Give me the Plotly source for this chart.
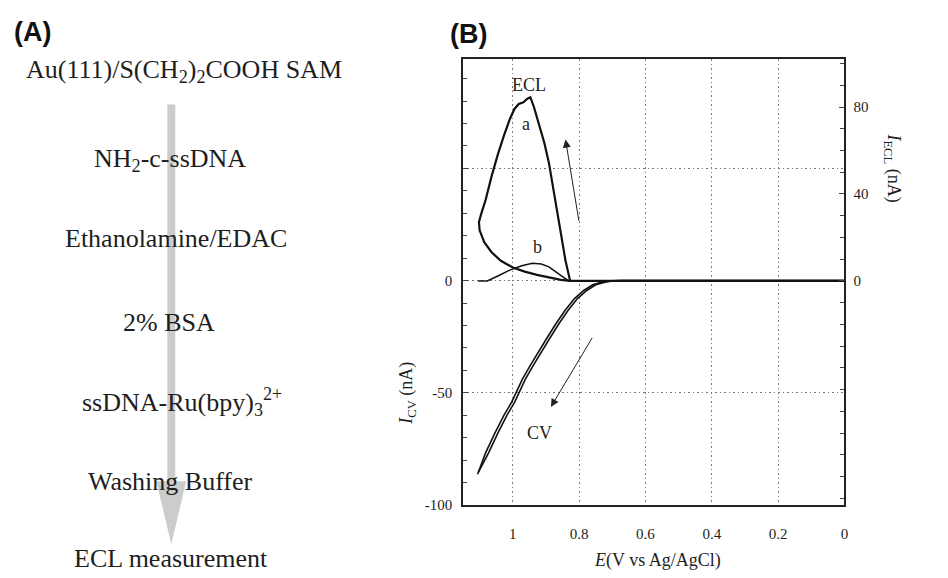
import plotly.graph_objects as go

W, H = 948, 578

# ---------------- Panel B data ----------------
# ECL curve a (E / V, I_ECL / nA, right axis)
ecl_a_E = [0.000, 0.827, 0.841, 0.855, 0.868, 0.882, 0.891, 0.905, 0.923, 0.936, 0.947,
           0.956, 0.968, 0.982, 0.995, 1.009, 1.027, 1.045, 1.064, 1.082, 1.095, 1.102,
           1.100, 1.086, 1.064, 1.036, 1.000, 0.964, 0.927, 0.891, 0.855, 0.827]
ecl_a_I = [0.0, 0.0, 9.3, 21.7, 34.1, 45.0, 54.3, 63.6, 73.7, 79.9, 84.5,
           83.8, 82.2, 81.4, 79.1, 74.4, 66.7, 58.2, 48.1, 37.2, 31.0, 27.1,
           23.3, 17.8, 13.2, 9.3, 6.2, 4.3, 2.8, 1.6, 0.5, 0.0]

# ECL curve b
ecl_b_E = [1.105, 1.077, 1.045, 1.009, 0.973, 0.941, 0.914, 0.891, 0.868, 0.845, 0.832, 0.000]
ecl_b_I = [0.0, 0.0, 2.3, 5.0, 7.0, 8.1, 7.8, 6.5, 3.9, 1.2, 0.0, 0.0]

# CV curves (E / V, I_CV / nA, left axis)
cv1_E = [1.106, 1.082, 1.054, 1.026, 1.003, 0.989, 0.971, 0.948, 0.925, 0.897,
         0.869, 0.842, 0.814, 0.786, 0.759, 0.731, 0.704, 0.676, 0.000]
cv1_I = [-86.3, -76.8, -68.0, -59.9, -54.1, -49.7, -43.9, -38.0, -32.2, -25.6,
         -19.0, -13.2, -8.0, -4.4, -1.9, -0.7, -0.1, 0.0, 0.0]
cv2_E = [1.104, 1.073, 1.045, 1.017, 0.994, 0.980, 0.962, 0.939, 0.916, 0.888,
         0.860, 0.833, 0.805, 0.777, 0.750, 0.722, 0.695, 0.667, 0.000]
cv2_I = [-85.5, -76.8, -68.0, -59.9, -54.1, -49.7, -43.9, -38.0, -32.2, -25.6,
         -19.0, -13.2, -8.0, -4.4, -1.9, -0.7, -0.1, 0.0, 0.0]

x_tickvals = [1, 0.8, 0.6, 0.4, 0.2, 0]
x_ticktext = ["1", "0.8", "0.6", "0.4", "0.2", "0"]
yl_tickvals = [-100, -50, 0, 50]
yl_ticktext = ["-100", "-50", "0", ""]
yr_tickvals = [0, 40, 80]
yr_ticktext = ["0", "40", "80"]

# ---------------- Panel A text ----------------
steps = [
    "Au(111)/S(CH<sub>2</sub>)<sub>2</sub>COOH SAM",
    "NH<sub>2</sub>-c-ssDNA",
    "Ethanolamine/EDAC",
    "2% BSA",
    "ssDNA-Ru(bpy)<sub>3</sub><sup>2+</sup>",
    "Washing Buffer",
    "ECL measurement",
]
step_px = [(185, 72), (171, 162), (177, 242), (170, 327), (183, 408), (171, 488), (172, 566)]

SERIF = "Liberation Serif"
SANS = "Liberation Sans"
TXT = "#1e1e1e"


def px2x(px):
    return px / W


def py2y(py):
    return 1 - py / H


fig = go.Figure()

fig.add_trace(go.Scatter(x=cv1_E, y=cv1_I, mode="lines", line=dict(color="#111", width=1.6),
                         yaxis="y", showlegend=False))
fig.add_trace(go.Scatter(x=cv2_E, y=cv2_I, mode="lines", line=dict(color="#111", width=1.6),
                         yaxis="y", showlegend=False))
fig.add_trace(go.Scatter(x=ecl_b_E, y=ecl_b_I, mode="lines", line=dict(color="#111", width=1.5),
                         yaxis="y2", showlegend=False))
fig.add_trace(go.Scatter(x=ecl_a_E, y=ecl_a_I, mode="lines", line=dict(color="#111", width=2.2),
                         yaxis="y2", showlegend=False))

ann = []
# panel labels
ann.append(dict(x=px2x(33), y=py2y(32), xref="paper", yref="paper", text="<b>(A)</b>",
                showarrow=False, font=dict(family=SANS, size=27, color="#111"),
                xanchor="center", yanchor="middle"))
ann.append(dict(x=px2x(470), y=py2y(34), xref="paper", yref="paper", text="<b>(B)</b>",
                showarrow=False, font=dict(family=SANS, size=27, color="#111"),
                xanchor="center", yanchor="middle"))
for t, (cx, cy) in zip(steps, step_px):
    ann.append(dict(x=px2x(cx), y=py2y(cy), xref="paper", yref="paper", text=t,
                    showarrow=False, font=dict(family=SERIF, size=26, color=TXT),
                    xanchor="center", yanchor="middle"))

# chart labels
ann.append(dict(x=0.95, y=90, xref="x", yref="y2", text="ECL", showarrow=False,
                font=dict(family=SERIF, size=18, color=TXT)))
ann.append(dict(x=0.959, y=72, xref="x", yref="y2", text="a", showarrow=False,
                font=dict(family=SERIF, size=18, color=TXT)))
ann.append(dict(x=0.925, y=15.5, xref="x", yref="y2", text="b", showarrow=False,
                font=dict(family=SERIF, size=18, color=TXT)))
ann.append(dict(x=0.918, y=-68, xref="x", yref="y", text="CV", showarrow=False,
                font=dict(family=SERIF, size=18, color=TXT)))
# arrows
ann.append(dict(x=0.841, y=65, xref="x", yref="y2", ax=0.800, ay=27, axref="x", ayref="y2",
                text="", showarrow=True, arrowhead=2, arrowsize=1.6, arrowwidth=1,
                arrowcolor="#222"))
ann.append(dict(x=0.885, y=-56.3, xref="x", yref="y", ax=0.758, ay=-24.9, axref="x", ayref="y",
                text="", showarrow=True, arrowhead=2, arrowsize=1.6, arrowwidth=1,
                arrowcolor="#222"))
# axis titles
ann.append(dict(x=px2x(660), y=py2y(568), xref="paper", yref="paper",
                text="<i>E</i>(V vs Ag/AgCl)", showarrow=False,
                font=dict(family=SERIF, size=18, color=TXT), xanchor="center", yanchor="middle"))
ann.append(dict(x=px2x(409), y=py2y(399), xref="paper", yref="paper",
                text="<i>I</i><sub>CV</sub> (nA)", showarrow=False, textangle=-90,
                font=dict(family=SERIF, size=18, color=TXT), xanchor="center", yanchor="middle"))
ann.append(dict(x=px2x(896), y=py2y(170), xref="paper", yref="paper",
                text="<i>I</i><sub>ECL</sub> (nA)", showarrow=False, textangle=90,
                font=dict(family=SERIF, size=18, color=TXT), xanchor="center", yanchor="middle"))

shapes = [
    dict(type="rect", xref="paper", yref="paper", x0=px2x(168), x1=px2x(176),
         y0=py2y(490), y1=py2y(106), fillcolor="#cccccc", line=dict(width=0), layer="below"),
    dict(type="path", xref="paper", yref="paper",
         path="M %f,%f L %f,%f L %f,%f Z" % (px2x(157), py2y(488), px2x(187), py2y(488),
                                             px2x(172), py2y(552)),
         fillcolor="#cccccc", line=dict(width=0), layer="below"),
]

GRID_DASH = "1.5px,3px"

fig.update_layout(
    width=W, height=H,
    margin=dict(l=0, r=0, t=0, b=0),
    paper_bgcolor="white", plot_bgcolor="white",
    showlegend=False,
    annotations=ann,
    shapes=shapes,
    xaxis=dict(domain=[465 / W, 848 / W], range=[1.15, 0], tickvals=x_tickvals,
               ticktext=x_ticktext, showgrid=True, griddash=GRID_DASH, gridcolor="#777",
               gridwidth=1.2, showline=True, mirror=True, linecolor="#222", linewidth=1.5,
               ticks="", zeroline=False, ticklabelstandoff=14,
               tickfont=dict(family=SERIF, size=15, color=TXT)),
    yaxis=dict(domain=[1 - 512 / H, 1 - 60 / H], range=[-100, 98.7], tickvals=yl_tickvals,
               ticktext=yl_ticktext, ticks="inside", ticklen=5, tickcolor="#444",
               showgrid=True, griddash=GRID_DASH, gridcolor="#777", gridwidth=1.2,
               showline=True, mirror=True, linecolor="#222", linewidth=1.5, zeroline=False,
               minor=dict(dtick=10, tick0=0, ticks="inside", ticklen=4, tickcolor="#444",
                          showgrid=False),
               ticklabelstandoff=6,
               tickfont=dict(family=SERIF, size=15, color=TXT)),
    yaxis2=dict(overlaying="y", side="right", anchor="x", range=[-103, 102],
                tickvals=yr_tickvals, ticktext=yr_ticktext, ticks="inside", ticklen=5,
                tickcolor="#444", showgrid=False, zeroline=False, showline=False,
                minor=dict(dtick=10, tick0=0, ticks="inside", ticklen=4, tickcolor="#444",
                           showgrid=False),
                ticklabelstandoff=8,
                tickfont=dict(family=SERIF, size=15, color=TXT)),
)

fig.write_html("out.html", config={"displayModeBar": False},
               post_script="document.body.style.margin='0px';")
